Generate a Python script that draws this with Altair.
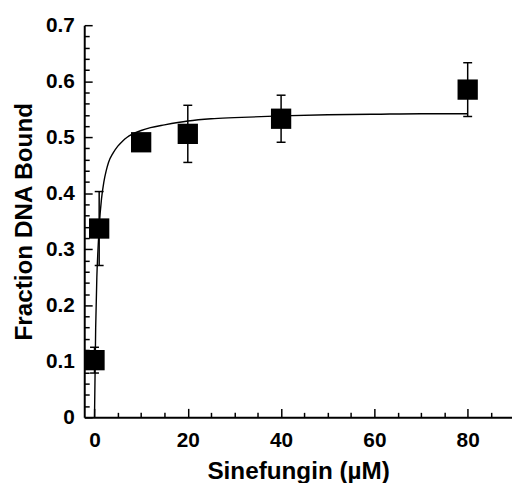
import altair as alt
import pandas as pd

# Data
conc = [0, 1, 10, 20, 40, 80]
frac = [0.102, 0.337, 0.491, 0.506, 0.533, 0.585]
err = [0.023, 0.066, 0.008, 0.051, 0.042, 0.048]

curve_x = [0, 0.25, 0.5, 0.75, 1, 1.5, 2, 2.5, 3, 4, 5, 6, 7, 8, 10, 12, 15, 20, 25, 30,
           40, 50, 60, 70, 80]
curve_y = [0.0, 0.16, 0.25, 0.30, 0.34, 0.39, 0.42, 0.44, 0.455, 0.472, 0.484, 0.493,
           0.500, 0.505, 0.512, 0.517, 0.522, 0.529, 0.533, 0.535, 0.538, 0.540, 0.541,
           0.542, 0.542]

x_major = [0, 20, 40, 60, 80]
x_minor = [5, 10, 15, 25, 30, 35, 45, 50, 55, 65, 70, 75, 85]
y_major = [0, 0.1, 0.2, 0.3, 0.4, 0.5, 0.6, 0.7]
y_minor = [0.02, 0.04, 0.06, 0.08, 0.12, 0.14, 0.16, 0.18, 0.22, 0.24, 0.26, 0.28,
           0.32, 0.34, 0.36, 0.38, 0.42, 0.44, 0.46, 0.48, 0.52, 0.54, 0.56, 0.58,
           0.62, 0.64, 0.66, 0.68]

df = pd.DataFrame({
    "conc": conc,
    "frac": frac,
    "lo": [f - e for f, e in zip(frac, err)],
    "hi": [f + e for f, e in zip(frac, err)],
})
curve = pd.DataFrame({"conc": curve_x, "frac": curve_y})

W, H = 432, 396
FONT = "Liberation Sans"

xs = alt.Scale(domain=[-2.2, 89.5], nice=False, zero=False)
ys = alt.Scale(domain=[0, 0.7], nice=False, zero=False)

# main axes: domain lines, labels and titles
main_x = alt.Axis(values=x_major, format="d", title="Sinefungin (\u00b5M)", ticks=False,
                  tickSize=0, grid=False, domainColor="black", domainWidth=2,
                  labelPadding=12, titlePadding=10)
main_y = alt.Axis(values=y_major, title="Fraction DNA Bound", ticks=False, tickSize=0,
                  grid=False, domainColor="black", domainWidth=2, labelPadding=10,
                  titlePadding=9,
                  labelExpr="datum.value == 0 ? '0' : format(datum.value, '.1f')")

points = alt.Chart(df).mark_square(size=420, color="black", opacity=1, filled=True).encode(
    x=alt.X("conc:Q", scale=xs, axis=main_x),
    y=alt.Y("frac:Q", scale=ys, axis=main_y),
)

bars = alt.Chart(df).mark_rule(color="black", strokeWidth=1.5).encode(
    x=alt.X("conc:Q", scale=xs, axis=None),
    y=alt.Y("lo:Q", scale=ys, axis=None),
    y2="hi:Q",
)
cap_hi = alt.Chart(df).mark_tick(orient="horizontal", size=9, thickness=1.5, color="black", opacity=1).encode(
    x=alt.X("conc:Q", scale=xs, axis=None),
    y=alt.Y("hi:Q", scale=ys, axis=None),
)
cap_lo = alt.Chart(df).mark_tick(orient="horizontal", size=9, thickness=1.5, color="black", opacity=1).encode(
    x=alt.X("conc:Q", scale=xs, axis=None),
    y=alt.Y("lo:Q", scale=ys, axis=None),
)

line = alt.Chart(curve).mark_line(color="black", strokeWidth=1.4, interpolate="monotone").encode(
    x=alt.X("conc:Q", scale=xs, axis=None),
    y=alt.Y("frac:Q", scale=ys, axis=None),
)


def tick_layer(xv, yv, xlen, ylen):
    return alt.Chart(df).mark_point(opacity=0).encode(
        x=alt.X("conc:Q", scale=xs,
                axis=alt.Axis(orient="top", offset=-H, values=xv, labels=False, domain=False,
                              tickSize=xlen, tickWidth=1.5, tickColor="black", grid=False,
                              title=None)),
        y=alt.Y("frac:Q", scale=ys,
                axis=alt.Axis(orient="right", offset=-W, values=yv, labels=False, domain=False,
                              tickSize=ylen, tickWidth=1.5, tickColor="black", grid=False,
                              title=None)),
    )


chart = alt.layer(
    line, bars, cap_hi, cap_lo, points,
    tick_layer(x_major, y_major, 9, 8),
    tick_layer(x_minor, y_minor, 5, 5),
).resolve_axis(x="independent", y="independent").properties(
    width=W, height=H,
    autosize=alt.AutoSizeParams(type="none"),
    padding={"left": 77, "top": 15, "right": 0, "bottom": 64},
    background="white",
).configure_view(stroke=None).configure_axis(
    labelFont=FONT, labelFontWeight="bold", labelFontSize=21, labelColor="black",
    titleFont=FONT, titleFontWeight="bold", titleFontSize=24.5, titleColor="black",
)

chart.save("out.html", embed_options={"renderer": "svg", "actions": False})
